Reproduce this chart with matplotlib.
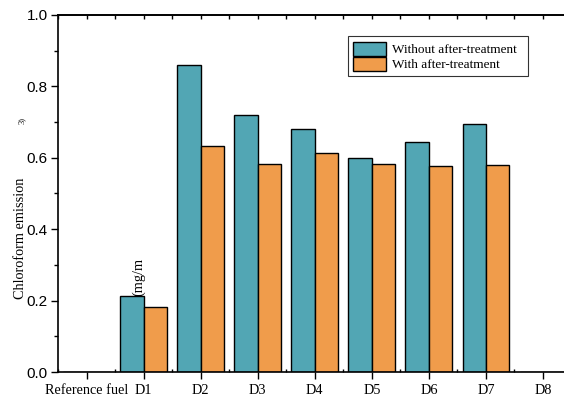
import matplotlib
matplotlib.use("Agg")
import matplotlib.pyplot as plt
import numpy as np
from matplotlib.ticker import MultipleLocator

categories = ["Reference fuel", "D1", "D2", "D3", "D4", "D5", "D6", "D7", "D8"]
without_at = [0.0, 0.214, 0.860, 0.720, 0.681, 0.600, 0.644, 0.695, 0.0]
with_at = [0.0, 0.183, 0.633, 0.583, 0.613, 0.583, 0.577, 0.580, 0.0]
series_labels = ["Without after-treatment", "With after-treatment"]

teal = "#52A6B4"
orange = "#F09C4B"
serif = "Liberation Serif"
sans = "Liberation Sans"

fig = plt.figure(figsize=(5.64, 3.99), dpi=100)
ax = fig.add_axes([58 / 564, 27 / 399, 513.5 / 564, 357 / 399])

x = np.arange(len(categories))
w = 0.41
ax.bar(x - w / 2, without_at, w, color=teal, edgecolor="black", linewidth=1.0,
       label=series_labels[0])
ax.bar(x + w / 2, with_at, w, color=orange, edgecolor="black", linewidth=1.0,
       label=series_labels[1])

ax.set_xlim(-0.5, 8.5)
ax.set_ylim(0, 1.0)
ax.set_xticks(x)
ax.set_xticklabels(categories, fontfamily=serif, fontsize=10.3)
ax.xaxis.set_minor_locator(MultipleLocator(0.5))
ax.yaxis.set_minor_locator(MultipleLocator(0.1))
ax.set_yticks([0, 0.2, 0.4, 0.6, 0.8, 1.0])
ax.set_yticklabels(["0.0", "0.2", "0.4", "0.6", "0.8", "1.0"], fontfamily=sans, fontsize=11)

ax.tick_params(axis="x", which="major", direction="out", length=5, width=1, top=False)
ax.tick_params(axis="x", which="minor", direction="in", length=2, width=1, top=False, bottom=True)
ax.tick_params(axis="y", which="major", direction="out", length=5, width=1, pad=2.5)
ax.tick_params(axis="y", which="minor", direction="out", length=3, width=1)
for s in ax.spines.values():
    s.set_linewidth(1.2)

# inward ticks along the top frame at every half category
top = ax.secondary_xaxis("top")
top.set_xticks(np.arange(-0.5, 8.51, 0.5))
top.tick_params(direction="in", length=3, width=1, labeltop=False)
top.spines["top"].set_linewidth(1.2)

ax.text(-0.074, 0.375, "Chloroform emission", transform=ax.transAxes, rotation=90,
        ha="center", va="center", fontfamily=serif, fontsize=10.3)
ax.text(-0.07, 0.705, "3)", transform=ax.transAxes, rotation=90,
        ha="center", va="center", fontfamily=serif, fontsize=6)
ax.text(0.92, 0.214, "(mg/m", rotation=90, ha="center", va="bottom",
        fontfamily=serif, fontsize=10.3)

leg = ax.legend(loc="upper left", bbox_to_anchor=(0.565, 0.94), frameon=True,
                fancybox=False, edgecolor="black", prop={"family": serif, "size": 9.5},
                handlelength=2.5, handleheight=1.3, borderpad=0.4, labelspacing=0.02,
                handletextpad=0.4, borderaxespad=0)
leg.get_frame().set_linewidth(0.8)
# a little extra room on the right of the legend text
for t in leg.get_texts():
    t.set_text(t.get_text() + "  ")

fig.savefig("out.png", dpi=100)
